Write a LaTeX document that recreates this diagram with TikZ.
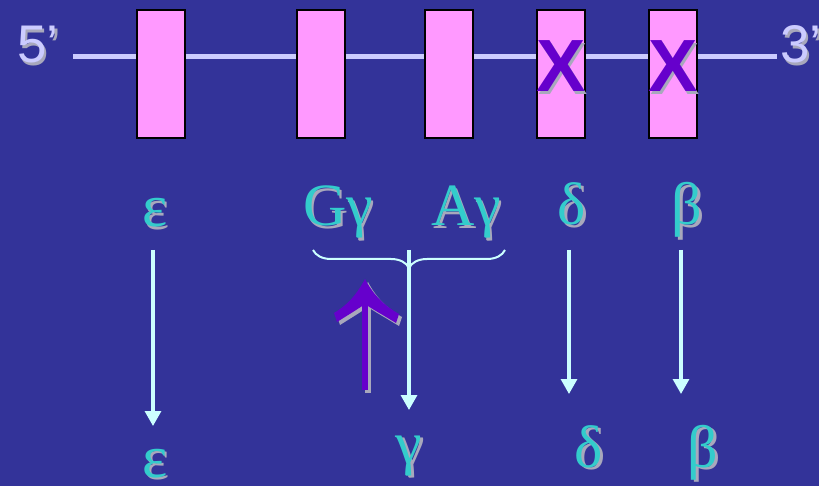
\documentclass[tikz,border=0pt]{standalone}
\usepackage{fontspec}
\setmainfont{Liberation Serif}
\newfontfamily\arial{Liberation Sans}
\usetikzlibrary{arrows.meta,decorations.pathreplacing}

\definecolor{slide}{HTML}{333399}
\definecolor{strand}{HTML}{CCCCFF}
\definecolor{exon}{HTML}{FF99FF}
\definecolor{greek}{HTML}{33CCCC}
\definecolor{dropgrey}{HTML}{A8A8BC}
\definecolor{flow}{HTML}{CCFFFF}
\definecolor{knock}{HTML}{6600CC}

% text with a grey drop shadow: name, base point, style, text
\newcommand{\shadowtext}[4]{%
  \node[#3,text=dropgrey,anchor=base,xshift=2.5pt,yshift=-2.5pt] (#1 shadow) at (#2) {#4};
  \node[#3,anchor=base] (#1) at (#2) {#4};
}
% the up arrow: shaft and swept head
\newcommand{\switcharrow}{%
  \draw[line width=6pt] (365,390) -- (365,300);
  \fill (365,279) .. controls (356,296) and (346,306) .. (334,313) -- (337,322)
    .. controls (348,315) and (358,309) .. (365,304) .. controls (372,309) and (383,315) .. (396,323)
    -- (399,314) .. controls (385,306) and (374,296) .. (365,279) -- cycle;
}

\begin{document}
\begin{tikzpicture}[x=1pt,y=-1pt,
    exonbox/.style={draw=black,line width=1.6pt,fill=exon,minimum width=48pt,minimum height=128pt,inner sep=0pt},
    ends/.style={font=\arial\fontsize{53}{53}\selectfont,text=strand,inner sep=0pt},
    cross/.style={font=\arial\bfseries\fontsize{74}{74}\selectfont,text=knock,inner sep=0pt},
    globin/.style={font=\fontsize{60}{60}\selectfont,text=greek,inner sep=0pt},
    flowarrow/.style={flow,line width=3.2pt,-{Triangle[length=15pt,width=16pt]}}]
  \fill[slide] (0,0) rectangle (819,486);
  \useasboundingbox (0,0) rectangle (819,486);

  % the strand with its five genes
  \coordinate (strand start) at (73,57);
  \coordinate (strand end) at (777,57);
  \draw[strand,line width=5pt] (strand start) -- (strand end);
  \shadowtext{five}{38,63}{ends}{5’}
  \shadowtext{three}{801,63}{ends}{3’}

  \node[exonbox] (eps gene) at (161,74) {};
  \node[exonbox] (Gg gene) at (321,74) {};
  \node[exonbox] (Ag gene) at (449,74) {};
  \node[exonbox] (delta gene) at (561,74) {};
  \node[exonbox] (beta gene) at (673,74) {};
  \shadowtext{delta off}{561,92}{cross}{X}
  \shadowtext{beta off}{673,92}{cross}{X}

  % gene names
  \shadowtext{eps}{155,227}{globin}{ε}
  \shadowtext{Gg}{338,226}{globin}{Gγ}
  \shadowtext{Ag}{466,226}{globin}{Aγ}
  \shadowtext{delta}{572,225}{globin}{δ}
  \shadowtext{beta}{687,225}{globin}{β}

  % chains
  \shadowtext{eps chain}{155,477}{globin}{ε}
  \shadowtext{gamma chain}{409,463}{globin}{γ}
  \shadowtext{delta chain}{589,467}{globin}{δ}
  \shadowtext{beta chain}{703,467}{globin}{β}

  \coordinate (brace right) at (505,250);
  \coordinate (brace left) at (313,250);
  \draw[flow,line width=2pt,decorate,decoration={brace,amplitude=18pt}] (brace right) -- (brace left);

  \draw[flowarrow] (153,250) -- (153,426);
  \draw[flowarrow] (409,250) -- (409,410);
  \draw[flowarrow] (569,250) -- (569,394);
  \draw[flowarrow] (681,250) -- (681,394);

  % switch-on arrow
  \begin{scope}[shift={(3,3)},draw=dropgrey,fill=dropgrey]
    \switcharrow
  \end{scope}
  \begin{scope}[draw=knock,fill=knock]
    \switcharrow
  \end{scope}
\end{tikzpicture}
\end{document}
